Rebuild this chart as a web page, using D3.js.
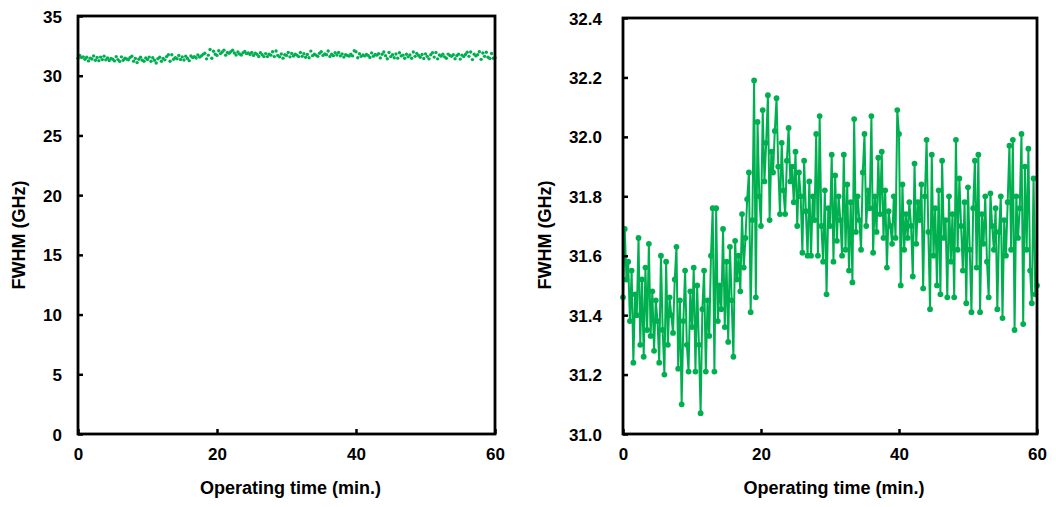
<!DOCTYPE html>
<html>
<head>
<meta charset="utf-8">
<script src="https://cdn.jsdelivr.net/npm/d3@7"></script>
<style>
  body { margin: 0; background: #fff; }
  svg { display: block; font-family: "Liberation Sans", Arial, sans-serif; }
  .tick text { font-size: 17px; font-weight: bold; fill: #000; }
  .title { font-size: 18px; font-weight: bold; fill: #000; }
</style>
</head>
<body>
<div id="chart"></div>
<script>
// FWHM readings, one every 15 s (4 per minute)
const sampleStep = 0.25
const fwhm = [
  31.46, 31.69, 31.52, 31.58,  31.38, 31.55, 31.24, 31.47,  31.40, 31.66, 31.30, 31.52,
  31.26, 31.56, 31.35, 31.64,  31.33, 31.48, 31.28, 31.45,  31.38, 31.24, 31.60, 31.35,
  31.20, 31.58, 31.30, 31.46,  31.40, 31.34, 31.52, 31.63,  31.22, 31.45, 31.10, 31.38,
  31.55, 31.30, 31.21, 31.48,  31.36, 31.56, 31.21, 31.50,  31.30, 31.07, 31.42, 31.55,
  31.21, 31.45, 31.33, 31.60,  31.76, 31.21, 31.76, 31.38,  31.50, 31.42, 31.69, 31.36,
  31.58, 31.31, 31.63, 31.45,  31.26, 31.65, 31.52, 31.60,  31.48, 31.74, 31.56, 31.66,
  31.79, 31.88, 31.41, 31.72,  32.19, 31.46, 32.05, 31.80,  31.70, 32.09, 31.85, 31.98,
  32.14, 31.72, 31.95, 31.88,  32.02, 32.13, 31.90, 31.74,  31.98, 31.82, 31.74, 31.92,
  32.03, 31.85, 31.90, 31.78,  31.95, 31.70, 31.88, 31.80,  31.61, 31.92, 31.75, 31.60,
  31.85, 31.60, 31.80, 31.72,  32.01, 31.60, 32.07, 31.70,  31.58, 31.82, 31.47, 31.76,
  31.70, 31.94, 31.58, 31.87,  31.65, 31.80, 31.72, 31.60,  31.94, 31.62, 31.84, 31.55,
  31.78, 31.51, 32.06, 31.68,  31.80, 31.72, 31.62, 31.88,  32.01, 31.70, 31.82, 31.76,
  32.07, 31.61, 31.80, 31.68,  31.93, 31.74, 31.95, 31.66,  31.82, 31.56, 31.75, 31.70,
  31.64, 31.80, 31.66, 32.09,  32.01, 31.50, 31.84, 31.62,  31.74, 31.66, 31.78, 31.70,
  31.53, 31.91, 31.64, 31.78,  31.72, 31.84, 31.49, 31.80,  31.99, 31.68, 31.42, 31.94,
  31.60, 31.76, 31.50, 31.82,  31.47, 31.92, 31.66, 31.72,  31.46, 31.80, 31.58, 31.74,
  31.46, 31.99, 31.62, 31.86,  31.70, 31.55, 31.78, 31.44,  31.83, 31.62, 31.41, 31.76,
  31.92, 31.56, 31.94, 31.41,  31.74, 31.64, 31.80, 31.58,  31.46, 31.81, 31.70, 31.62,
  31.76, 31.42, 31.68, 31.80,  31.39, 31.72, 31.60, 31.78,  31.97, 31.62, 31.99, 31.35,
  31.80, 31.66, 31.76, 32.01,  31.37, 31.90, 31.62, 31.96,  31.55, 31.44, 31.86, 31.47,
  31.50
]

const xTicks = [0, 20, 40, 60]
const leftYTicks = [0, 5, 10, 15, 20, 25, 30, 35]
const rightYTicks = [31.0, 31.2, 31.4, 31.6, 31.8, 32.0, 32.2, 32.4]
const xTitle = 'Operating time (min.)'
const yTitle = 'FWHM (GHz)'

const green = '#00b050'
const svgw = 1056
const svgh = 507

const data = fwhm.map((v, i) => ({ t: i * sampleStep, v: v }))

const svg = d3.select('#chart')
    .append('svg')
    .attr('width', svgw)
    .attr('height', svgh)

function panel(opts) {
    const xScale = d3.scaleLinear().domain([0, 60]).range([opts.left, opts.right])
    const yScale = d3.scaleLinear().domain(opts.yDomain).range([opts.bottom, opts.top])

    const g = svg.append('g')

    // series
    if (opts.line) {
        const line = d3.line().x(d => xScale(d.t)).y(d => yScale(d.v))
        g.append('path')
            .datum(data)
            .attr('d', line)
            .attr('fill', 'none')
            .attr('stroke', green)
            .attr('stroke-width', 2)
    }
    g.selectAll('circle.pt')
        .data(data)
        .enter()
        .append('circle')
        .attr('class', 'pt')
        .attr('cx', d => xScale(d.t))
        .attr('cy', d => yScale(d.v))
        .attr('r', opts.r)
        .attr('fill', green)

    // axes, ticks pointing inward
    const xAxis = d3.axisBottom(xScale)
        .tickValues(xTicks)
        .tickSizeInner(-5)
        .tickSizeOuter(0)
        .tickPadding(14)
        .tickFormat(d3.format('d'))
    const yAxis = d3.axisLeft(yScale)
        .tickValues(opts.yTicks)
        .tickSizeInner(-5)
        .tickSizeOuter(0)
        .tickPadding(opts.yPad)
        .tickFormat(opts.yFormat)

    const gx = g.append('g')
        .attr('transform', `translate(0,${opts.bottom})`)
        .call(xAxis)
    const gy = g.append('g')
        .attr('transform', `translate(${opts.left},0)`)
        .call(yAxis)
    gx.select('.domain').remove()
    gy.select('.domain').remove()
    g.selectAll('.tick line').attr('stroke', '#000').attr('stroke-width', 2.5)
    gx.selectAll('.tick text').attr('dy', '0.71em')
    gy.selectAll('.tick text').attr('dy', '0.36em')

    // frame
    g.append('rect')
        .attr('x', opts.left)
        .attr('y', opts.top)
        .attr('width', opts.right - opts.left)
        .attr('height', opts.bottom - opts.top)
        .attr('fill', 'none')
        .attr('stroke', '#000')
        .attr('stroke-width', 2.8)

    g.append('text')
        .attr('class', 'title')
        .attr('x', (opts.left + opts.right) / 2 + 4)
        .attr('y', 494)
        .attr('text-anchor', 'middle')
        .text(xTitle)

    g.append('text')
        .attr('class', 'title')
        .attr('transform', `translate(${opts.yTitleX},235) rotate(-90)`)
        .attr('text-anchor', 'middle')
        .text(yTitle)
}

panel({
    left: 78, right: 495, top: 16, bottom: 434,
    yDomain: [0, 35], yTicks: leftYTicks, yFormat: d3.format('d'), yPad: 16,
    line: false, r: 1.7, yTitleX: 25
})

panel({
    left: 623, right: 1037, top: 18, bottom: 434,
    yDomain: [31.0, 32.4], yTicks: rightYTicks, yFormat: d3.format('.1f'), yPad: 21,
    line: true, r: 2.9, yTitleX: 551
})
</script>
</body>
</html>
